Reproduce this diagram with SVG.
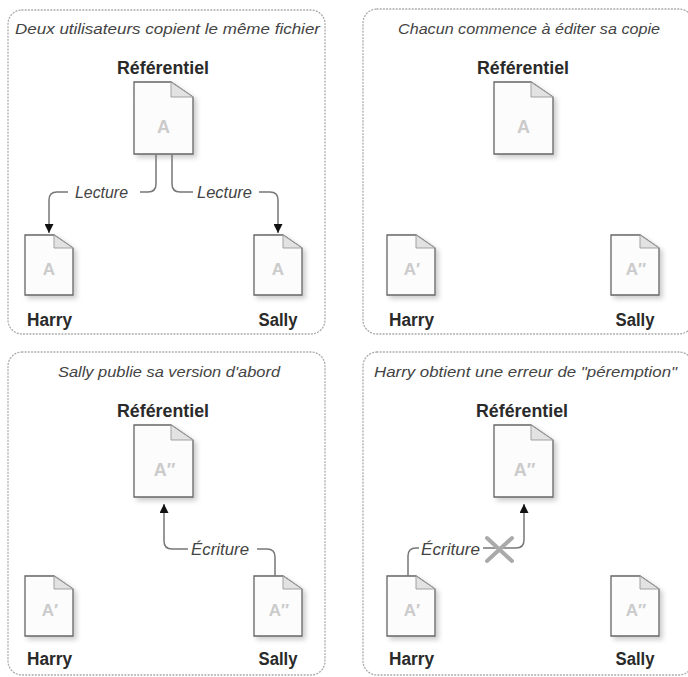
<svg xmlns="http://www.w3.org/2000/svg" xmlns:xlink="http://www.w3.org/1999/xlink" width="688" height="677" viewBox="0 0 688 677">
<style>
.panel{fill:none;stroke:#aaa;stroke-width:1.3;stroke-dasharray:1 2.2;stroke-linecap:round}
.doc{fill:#fcfcfc;stroke:#666;stroke-width:1.3;stroke-linejoin:miter}
.fold{fill:#e2e2e2;stroke:#999;stroke-width:0.9}
.title{font-family:"Liberation Sans",Arial,sans-serif;font-style:italic;font-size:15.5px;fill:#444}
.lbl{font-family:"Liberation Sans",Arial,sans-serif;font-weight:bold;font-size:18px;fill:#2a2a2a}
.ver{font-family:"Liberation Sans",Arial,sans-serif;font-weight:bold;fill:#cbcbcb;text-anchor:middle}
.vb{font-size:18px}
.vs{font-size:17px}
.conn{fill:none;stroke:#777;stroke-width:1.5}
.clbl{font-family:"Liberation Sans",Arial,sans-serif;font-style:italic;font-size:16px;fill:#444}
.cross{stroke:#aaa;stroke-width:4;stroke-linecap:round}
</style>
<defs>
<filter id="sh" x="-20%" y="-20%" width="150%" height="150%">
<feDropShadow dx="3" dy="3" stdDeviation="2.5" flood-color="#000" flood-opacity="0.2"/>
</filter>
<g id="docBig">
<path class="doc" d="M0,0 H37 L59,15 V72 H0 Z" filter="url(#sh)"/>
<path class="fold" d="M37,0 V15 H59 Z"/>
</g>
<g id="docSmall">
<path class="doc" d="M0,0 H29 L48,13 V60 H0 Z" filter="url(#sh)"/>
<path class="fold" d="M29,0 V13 H48 Z"/>
</g>
<marker id="arr" viewBox="0 0 10 10" refX="10" refY="5" markerWidth="9" markerHeight="9" markerUnits="userSpaceOnUse" orient="auto">
<path d="M0,0 L10,5 L0,10 Z" fill="#111"/>
</marker>
</defs>
<rect width="688" height="677" fill="#fff"/>

<g id="panels">
<rect class="panel" x="8" y="10" width="317" height="324" rx="14"/>
<rect class="panel" x="363" y="9" width="330" height="325" rx="14"/>
<rect class="panel" x="8" y="352" width="317" height="323" rx="14"/>
<rect class="panel" x="363" y="352" width="330" height="323" rx="14"/>
</g>

<g id="titles">
<text class="title" x="167.5" y="34" text-anchor="middle" textLength="305" lengthAdjust="spacingAndGlyphs">Deux utilisateurs copient le même fichier</text>
<text class="title" x="529" y="34" text-anchor="middle" textLength="262" lengthAdjust="spacingAndGlyphs">Chacun commence à éditer sa copie</text>
<text class="title" x="169" y="377" text-anchor="middle" textLength="222" lengthAdjust="spacingAndGlyphs">Sally publie sa version d'abord</text>
<text class="title" x="525.5" y="377" text-anchor="middle" textLength="303" lengthAdjust="spacingAndGlyphs">Harry obtient une erreur de "péremption"</text>
</g>

<!-- Panel 1 -->
<g id="p1-repo">
<use href="#docBig" x="134" y="82"/>
<text class="ver vb" x="163.5" y="133">A</text>
<text class="lbl" x="163" y="74" text-anchor="middle" textLength="92" lengthAdjust="spacingAndGlyphs">Référentiel</text>
</g>
<g id="p1-harry">
<use href="#docSmall" x="25" y="235"/>
<text class="ver vs" x="49" y="275">A</text>
<text class="lbl" x="49.5" y="326" text-anchor="middle" textLength="45" lengthAdjust="spacingAndGlyphs">Harry</text>
</g>
<g id="p1-sally">
<use href="#docSmall" x="254" y="235"/>
<text class="ver vs" x="278" y="275">A</text>
<text class="lbl" x="278" y="326" text-anchor="middle" textLength="39" lengthAdjust="spacingAndGlyphs">Sally</text>
</g>

<!-- Panel 2 -->
<g id="p2-repo">
<use href="#docBig" x="494" y="82"/>
<text class="ver vb" x="523.5" y="133">A</text>
<text class="lbl" x="523" y="74" text-anchor="middle" textLength="92" lengthAdjust="spacingAndGlyphs">Référentiel</text>
</g>
<g id="p2-harry">
<use href="#docSmall" x="387" y="235"/>
<text class="ver vs" x="412" y="275">A′</text>
<text class="lbl" x="411.5" y="326" text-anchor="middle" textLength="45" lengthAdjust="spacingAndGlyphs">Harry</text>
</g>
<g id="p2-sally">
<use href="#docSmall" x="611" y="235"/>
<text class="ver vs" x="636" y="275">A″</text>
<text class="lbl" x="635" y="326" text-anchor="middle" textLength="39" lengthAdjust="spacingAndGlyphs">Sally</text>
</g>

<!-- Panel 3 -->
<g id="p3-repo">
<use href="#docBig" x="134" y="425"/>
<text class="ver vb" x="164.5" y="476">A″</text>
<text class="lbl" x="163" y="417" text-anchor="middle" textLength="92" lengthAdjust="spacingAndGlyphs">Référentiel</text>
</g>
<g id="p3-harry">
<use href="#docSmall" x="25" y="576"/>
<text class="ver vs" x="50" y="616">A′</text>
<text class="lbl" x="49.5" y="665" text-anchor="middle" textLength="45" lengthAdjust="spacingAndGlyphs">Harry</text>
</g>
<g id="p3-sally">
<use href="#docSmall" x="254" y="576"/>
<text class="ver vs" x="279" y="616">A″</text>
<text class="lbl" x="278" y="665" text-anchor="middle" textLength="39" lengthAdjust="spacingAndGlyphs">Sally</text>
</g>

<!-- Panel 4 -->
<g id="p4-repo">
<use href="#docBig" x="494" y="425"/>
<text class="ver vb" x="524.5" y="476">A″</text>
<text class="lbl" x="522" y="417" text-anchor="middle" textLength="92" lengthAdjust="spacingAndGlyphs">Référentiel</text>
</g>
<g id="p4-harry">
<use href="#docSmall" x="387" y="576"/>
<text class="ver vs" x="412" y="616">A′</text>
<text class="lbl" x="411.5" y="665" text-anchor="middle" textLength="45" lengthAdjust="spacingAndGlyphs">Harry</text>
</g>
<g id="p4-sally">
<use href="#docSmall" x="611" y="576"/>
<text class="ver vs" x="636" y="616">A″</text>
<text class="lbl" x="635" y="665" text-anchor="middle" textLength="39" lengthAdjust="spacingAndGlyphs">Sally</text>
</g>

<g id="connectors">
<!-- Panel 1: Lecture to Harry -->
<path class="conn" d="M156,155 V184 Q156,192 148,192 H140"/>
<path class="conn" d="M68,192 H57 Q49,192 49,200 V233" marker-end="url(#arr)"/>
<text class="clbl" x="75" y="198" textLength="53" lengthAdjust="spacingAndGlyphs">Lecture</text>
<!-- Panel 1: Lecture to Sally -->
<path class="conn" d="M172,155 V184 Q172,192 180,192 H193"/>
<path class="conn" d="M259,192 H270 Q278,192 278,200 V233" marker-end="url(#arr)"/>
<text class="clbl" x="197" y="198" textLength="55" lengthAdjust="spacingAndGlyphs">Lecture</text>
<!-- Panel 3: Sally writes -->
<path class="conn" d="M275,576 V557 Q275,549 267,549 H257"/>
<path class="conn" d="M188,549 H172 Q164,549 164,541 V504" marker-end="url(#arr)"/>
<text class="clbl" x="191" y="555" textLength="58" lengthAdjust="spacingAndGlyphs">Écriture</text>
<!-- Panel 4: Harry write fails -->
<path class="conn" d="M408,576 V556 Q408,548 416,548 H419"/>
<path class="conn" d="M483,548 H516 Q524,548 524,540 V504" marker-end="url(#arr)"/>
<text class="clbl" x="421" y="555" textLength="59" lengthAdjust="spacingAndGlyphs">Écriture</text>
<path class="cross" d="M487,538 L512,561 M512,538 L487,561"/>
</g>
</svg>
